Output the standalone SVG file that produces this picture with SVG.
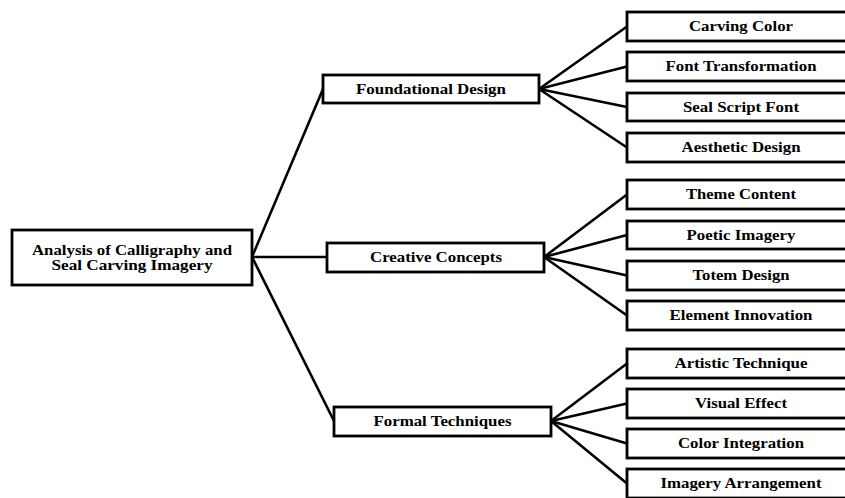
<svg xmlns="http://www.w3.org/2000/svg" width="845" height="498" viewBox="0 0 845 498">
  <style>
    .box { fill: #ffffff; stroke: #000000; stroke-width: 2.8; }
    .edge { fill: none; stroke: #000000; stroke-width: 2.6; stroke-linecap: round; }
    .lbl { font-family: "Liberation Serif", "Times New Roman", serif; font-weight: bold; font-size: 13.8px; fill: #000000; text-anchor: middle; }
  </style>
  <rect x="0" y="0" width="845" height="498" fill="#ffffff"/>

  <!-- connectors -->
  <g id="connectors" class="edge">
    <line x1="252" y1="257" x2="323" y2="89"/>
    <line x1="252" y1="257" x2="327" y2="257"/>
    <line x1="252" y1="257" x2="334" y2="421"/>

    <line x1="539" y1="89" x2="627" y2="26.5"/>
    <line x1="539" y1="89" x2="627" y2="66.5"/>
    <line x1="539" y1="89" x2="627" y2="107"/>
    <line x1="539" y1="89" x2="627" y2="147.5"/>

    <line x1="544" y1="257" x2="627" y2="194.5"/>
    <line x1="544" y1="257" x2="627" y2="235"/>
    <line x1="544" y1="257" x2="627" y2="275.5"/>
    <line x1="544" y1="257" x2="627" y2="315.5"/>

    <line x1="551" y1="421" x2="627" y2="363.5"/>
    <line x1="551" y1="421" x2="627" y2="403.5"/>
    <line x1="551" y1="421" x2="627" y2="443.5"/>
    <line x1="551" y1="421" x2="627" y2="483.5"/>
  </g>

  <!-- root -->
  <g id="root">
    <rect class="box" x="12" y="230" width="240" height="55"/>
    <text class="lbl" x="132" y="255" textLength="200" lengthAdjust="spacingAndGlyphs">Analysis of Calligraphy and</text>
    <text class="lbl" x="132" y="269.5" textLength="161" lengthAdjust="spacingAndGlyphs">Seal Carving Imagery</text>
  </g>

  <!-- second level -->
  <g id="foundational-design">
    <rect class="box" x="323" y="75" width="216" height="28"/>
    <text class="lbl" x="431" y="94" textLength="150" lengthAdjust="spacingAndGlyphs">Foundational Design</text>
  </g>
  <g id="creative-concepts">
    <rect class="box" x="327" y="243" width="217" height="29"/>
    <text class="lbl" x="436" y="262" textLength="132" lengthAdjust="spacingAndGlyphs">Creative Concepts</text>
  </g>
  <g id="formal-techniques">
    <rect class="box" x="334" y="407" width="217" height="29"/>
    <text class="lbl" x="442.5" y="426" textLength="138" lengthAdjust="spacingAndGlyphs">Formal Techniques</text>
  </g>

  <!-- leaves: Foundational Design -->
  <g id="carving-color">
    <rect class="box" x="627" y="12" width="228" height="29"/>
    <text class="lbl" x="741" y="31" textLength="104" lengthAdjust="spacingAndGlyphs">Carving Color</text>
  </g>
  <g id="font-transformation">
    <rect class="box" x="627" y="52" width="228" height="29"/>
    <text class="lbl" x="741" y="71" textLength="151" lengthAdjust="spacingAndGlyphs">Font Transformation</text>
  </g>
  <g id="seal-script-font">
    <rect class="box" x="627" y="93" width="228" height="28"/>
    <text class="lbl" x="741" y="112" textLength="116" lengthAdjust="spacingAndGlyphs">Seal Script Font</text>
  </g>
  <g id="aesthetic-design">
    <rect class="box" x="627" y="133" width="228" height="29"/>
    <text class="lbl" x="741" y="152" textLength="119" lengthAdjust="spacingAndGlyphs">Aesthetic Design</text>
  </g>

  <!-- leaves: Creative Concepts -->
  <g id="theme-content">
    <rect class="box" x="627" y="180" width="228" height="29"/>
    <text class="lbl" x="741" y="199" textLength="110" lengthAdjust="spacingAndGlyphs">Theme Content</text>
  </g>
  <g id="poetic-imagery">
    <rect class="box" x="627" y="221" width="228" height="28"/>
    <text class="lbl" x="741" y="240" textLength="109" lengthAdjust="spacingAndGlyphs">Poetic Imagery</text>
  </g>
  <g id="totem-design">
    <rect class="box" x="627" y="261" width="228" height="29"/>
    <text class="lbl" x="741" y="280" textLength="97" lengthAdjust="spacingAndGlyphs">Totem Design</text>
  </g>
  <g id="element-innovation">
    <rect class="box" x="627" y="301" width="228" height="29"/>
    <text class="lbl" x="741" y="320" textLength="143" lengthAdjust="spacingAndGlyphs">Element Innovation</text>
  </g>

  <!-- leaves: Formal Techniques -->
  <g id="artistic-technique">
    <rect class="box" x="627" y="349" width="228" height="29"/>
    <text class="lbl" x="741" y="368" textLength="133" lengthAdjust="spacingAndGlyphs">Artistic Technique</text>
  </g>
  <g id="visual-effect">
    <rect class="box" x="627" y="389" width="228" height="29"/>
    <text class="lbl" x="741" y="408" textLength="92" lengthAdjust="spacingAndGlyphs">Visual Effect</text>
  </g>
  <g id="color-integration">
    <rect class="box" x="627" y="429" width="228" height="29"/>
    <text class="lbl" x="741" y="448" textLength="126" lengthAdjust="spacingAndGlyphs">Color Integration</text>
  </g>
  <g id="imagery-arrangement">
    <rect class="box" x="627" y="469" width="228" height="29"/>
    <text class="lbl" x="741" y="488" textLength="161" lengthAdjust="spacingAndGlyphs">Imagery Arrangement</text>
  </g>
</svg>
